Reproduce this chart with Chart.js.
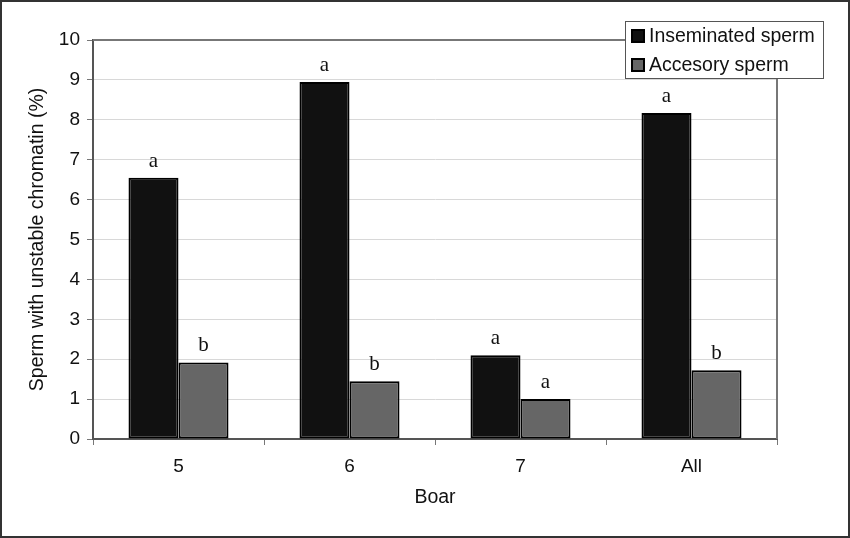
<!DOCTYPE html>
<html>
<head>
<meta charset="utf-8">
<script src="https://cdn.jsdelivr.net/npm/chart.js@4"></script>
<style>
  body { margin: 0; background: #fff; }
  canvas { display: block; }
</style>
</head>
<body>
<canvas id="chart" width="850" height="538"></canvas>
<script>
// Sperm with unstable chromatin per boar

const boars = ['5', '6', '7', 'All'];
const inseminated = [6.55, 8.95, 2.1, 8.17];
const accesory = [1.92, 1.45, 1.0, 1.72];
const inseminatedLetters = ['a', 'a', 'a', 'a'];
const accesoryLetters = ['b', 'b', 'a', 'b'];

const sans = 'Liberation Sans, Arial, sans-serif';

// letras de significancia em cima das barras
const letterPlugin = {
    id: 'letters',
    afterDatasetsDraw(chart) {
        const ctx = chart.ctx;
        const sets = [inseminatedLetters, accesoryLetters];
        ctx.save();
        ctx.font = '21px "Liberation Serif", "Times New Roman", serif';
        ctx.fillStyle = '#111';
        ctx.textAlign = 'center';
        ctx.textBaseline = 'alphabetic';
        sets.forEach((letters, i) => {
            chart.getDatasetMeta(i).data.forEach((bar, j) => {
                ctx.fillText(letters[j], bar.x, bar.y - 11);
            });
        });
        ctx.restore();
    }
};

// moldura, bordas do gráfico e legenda
const framePlugin = {
    id: 'frame',
    afterDraw(chart) {
        const ctx = chart.ctx;
        const a = chart.chartArea;
        ctx.save();
        ctx.strokeStyle = '#777';
        ctx.lineWidth = 2;
        ctx.beginPath();
        ctx.moveTo(a.left, a.top);
        ctx.lineTo(a.right, a.top);
        ctx.lineTo(a.right, a.bottom);
        ctx.stroke();

        ctx.strokeStyle = '#333';
        ctx.lineWidth = 2;
        ctx.strokeRect(1, 1, chart.width - 2, chart.height - 2);

        // legenda
        ctx.fillStyle = '#fff';
        ctx.fillRect(625, 21, 199, 58);
        ctx.strokeStyle = '#555';
        ctx.lineWidth = 1;
        ctx.strokeRect(625.5, 21.5, 198, 57);
        ctx.font = '19.5px ' + sans;
        ctx.textBaseline = 'middle';
        ctx.textAlign = 'left';
        chart.data.datasets.forEach((ds, i) => {
            const y = 36 + i * 29;
            ctx.fillStyle = ds.backgroundColor;
            ctx.fillRect(632, y - 6, 12, 12);
            ctx.strokeStyle = '#000';
            ctx.lineWidth = 2;
            ctx.strokeRect(632, y - 6, 12, 12);
            ctx.fillStyle = '#111';
            ctx.fillText(ds.label, 649, y + 1);
        });
        ctx.restore();
    }
};

new Chart(document.getElementById('chart'), {
    type: 'bar',
    data: {
        labels: boars,
        datasets: [
            {
                label: 'Inseminated sperm',
                data: inseminated,
                backgroundColor: '#111111',
                borderColor: '#000',
                borderWidth: 2,
                borderSkipped: false
            },
            {
                label: 'Accesory sperm',
                data: accesory,
                backgroundColor: '#666666',
                borderColor: '#000',
                borderWidth: 2,
                borderSkipped: false
            }
        ]
    },
    options: {
        responsive: false,
        animation: false,
        devicePixelRatio: 1,
        categoryPercentage: 0.585,
        barPercentage: 1.0,
        layout: { padding: { left: 0, top: 40, right: 73, bottom: 0 } },
        plugins: {
            legend: { display: false },
            tooltip: { enabled: false }
        },
        scales: {
            x: {
                afterFit: s => { s.height = 99; },
                grid: {
                    offset: true,
                    drawOnChartArea: false,
                    drawTicks: true,
                    tickLength: 6,
                    tickColor: '#777'
                },
                border: { color: '#555', width: 2 },
                ticks: { color: '#111', font: { family: sans, size: 19 }, padding: 10 },
                title: {
                    display: true,
                    text: 'Boar',
                    color: '#111',
                    font: { family: sans, size: 19.5 },
                    padding: 29
                }
            },
            y: {
                min: 0,
                max: 10,
                afterFit: s => { s.width = 93; },
                grid: {
                    color: '#d8d8d8',
                    tickColor: '#777',
                    tickLength: 6
                },
                border: { color: '#555', width: 2 },
                ticks: {
                    stepSize: 1,
                    color: '#111',
                    font: { family: sans, size: 19 },
                    padding: 7
                },
                title: {
                    display: true,
                    text: 'Sperm with unstable chromatin (%)',
                    color: '#111',
                    font: { family: sans, size: 19.5 },
                    padding: 26
                }
            }
        }
    },
    plugins: [letterPlugin, framePlugin]
});
</script>
</body>
</html>
